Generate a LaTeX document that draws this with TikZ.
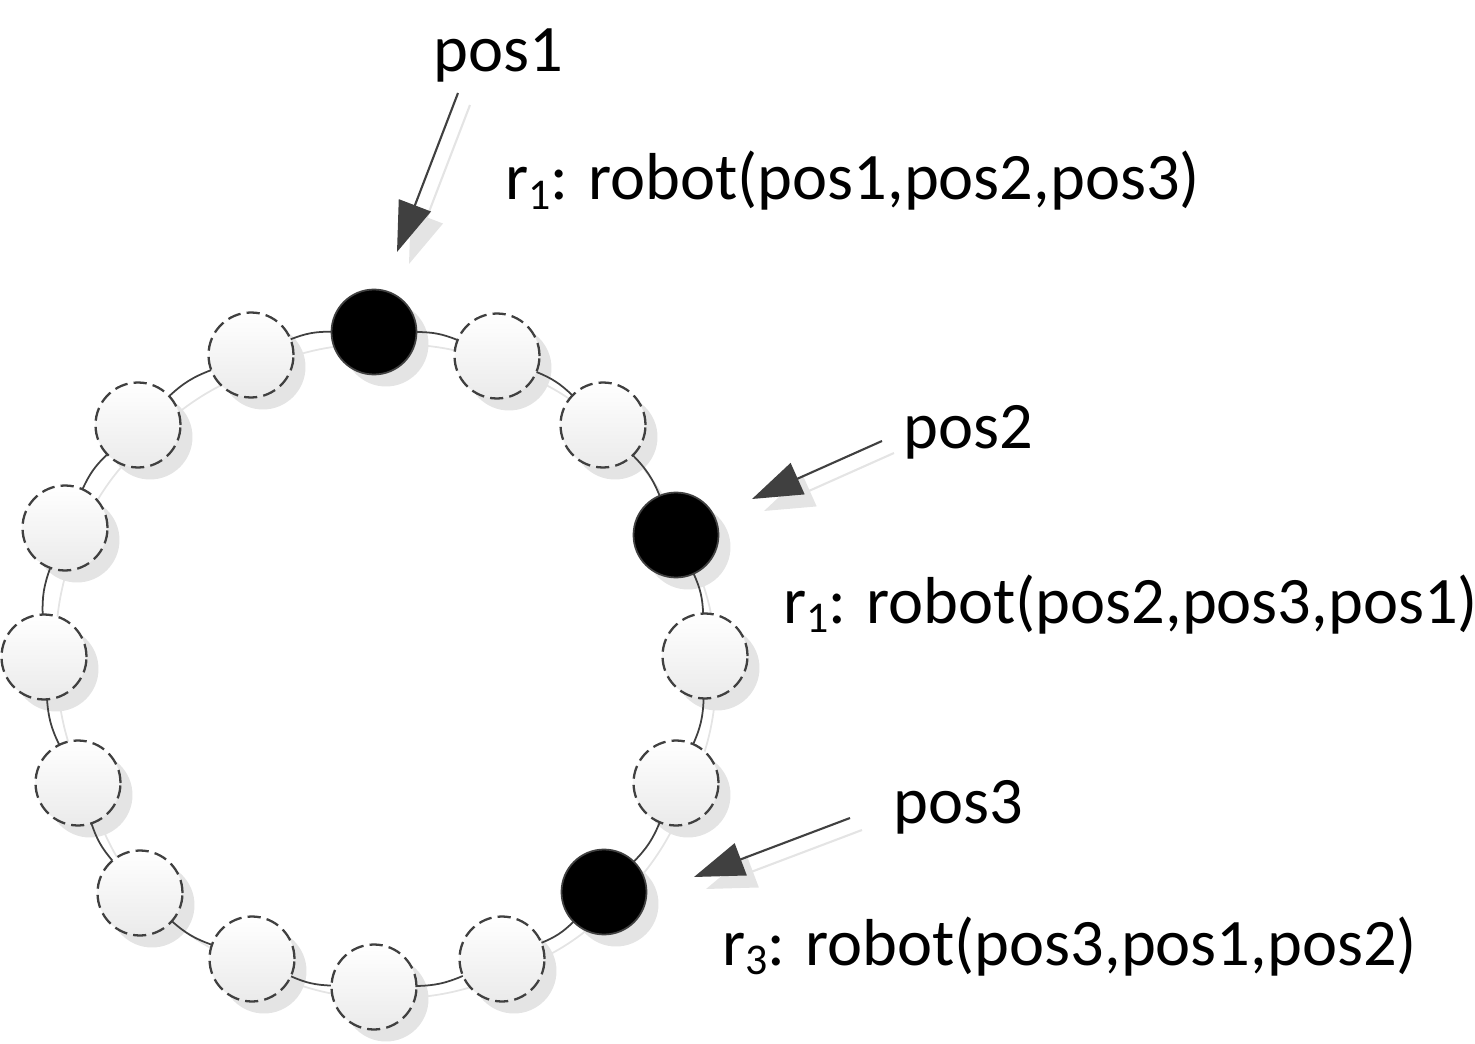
\documentclass[tikz,border=0pt]{standalone}
\usepackage{fontspec}
\setmainfont{Carlito}
\usetikzlibrary{arrows.meta,calc}
\pgfdeclarelayer{shadowlayer}
\pgfdeclarelayer{linelayer}
\pgfsetlayers{shadowlayer,linelayer,main}
\definecolor{dk}{HTML}{404040}
\definecolor{shd}{HTML}{E4E4E4}
\newcommand\robsub[1]{\raisebox{-0.15em}{\fontsize{25}{28}\selectfont #1}}
\begin{document}
\begin{tikzpicture}[x=0.02cm,y=-0.02cm,
  ball/.style={circle, minimum size=1.7cm, inner sep=0pt, outer sep=0pt},
  freeball/.style={ball, draw=dk, line width=1.3pt, dash pattern=on 7.5pt off 3.5pt, top color=white, bottom color=black!8},
  robotball/.style={ball, draw=dk, line width=1pt, fill=black},
  ring/.style={draw=dk, line width=1pt},
  ringshadow/.style={draw=shd, line width=1pt},
  lbl/.style={inner sep=0pt, anchor=base west, font=\fontsize{37.8}{45}\selectfont},
  ptr/.style={draw=dk, line width=1.2pt, -{Triangle[length=1cm,width=0.68cm]}},
  ptrshadow/.style={draw=shd, line width=1.2pt, -{Triangle[length=1cm,width=0.68cm]}}
]
\useasboundingbox (0,0) rectangle (1475,1044);

% ring of positions
\node[robotball] (c1) at (374,332) {};
\node[freeball] (c2) at (497,356) {};
\node[freeball] (c3) at (603,425) {};
\node[robotball] (c4) at (676,535) {};
\node[freeball] (c5) at (705,656) {};
\node[freeball] (c6) at (676,783) {};
\node[robotball] (c7) at (604,892) {};
\node[freeball] (c8) at (502,959) {};
\node[freeball] (c9) at (374,987) {};
\node[freeball] (c10) at (252,959) {};
\node[freeball] (c11) at (140,893) {};
\node[freeball] (c12) at (78,783) {};
\node[freeball] (c13) at (44,657) {};
\node[freeball] (c14) at (65,528) {};
\node[freeball] (c15) at (138,425) {};
\node[freeball] (c16) at (251,355) {};

\begin{pgfonlayer}{shadowlayer}
  \foreach \i/\j in {1/2,2/3,3/4,4/5,5/6,6/7,7/8,8/9,9/10,10/11,11/12,12/13,13/14,14/15,15/16,16/1}
    \draw[ringshadow] ($(c\i)+(12,12)$) to[bend left=11] ($(c\j)+(12,12)$);
  \foreach \i in {1,...,16}
    \fill[shd] ($(c\i)+(12,12)$) circle[radius=0.85cm];
\end{pgfonlayer}

\begin{pgfonlayer}{linelayer}
  \foreach \i/\j in {1/2,2/3,3/4,4/5,5/6,6/7,7/8,8/9,9/10,10/11,11/12,12/13,13/14,14/15,15/16,16/1}
    \draw[ring] (c\i) to[bend left=11] (c\j);
\end{pgfonlayer}

% pointers
\coordinate (p1s) at (458,93);
\coordinate (p1e) at (397,252);
\coordinate (p2s) at (882,441);
\coordinate (p2e) at (752,499);
\coordinate (p3s) at (850,818);
\coordinate (p3e) at (694,877);

\begin{pgfonlayer}{shadowlayer}
  \draw[ptrshadow] ($(p1s)+(12,12)$) -- ($(p1e)+(12,12)$);
  \draw[ptrshadow] ($(p2s)+(12,12)$) -- ($(p2e)+(12,12)$);
  \draw[ptrshadow] ($(p3s)+(12,12)$) -- ($(p3e)+(12,12)$);
\end{pgfonlayer}
\draw[ptr] (p1s) -- (p1e);
\draw[ptr] (p2s) -- (p2e);
\draw[ptr] (p3s) -- (p3e);

% labels
\node[lbl] (t1) at (433,72) {pos1};
\node[lbl] (r1a) at (505,200) {r\robsub{1}: robot(pos1,pos2,pos3)};
\node[lbl] (t2) at (903,448) {pos2};
\node[lbl] (r1b) at (783,623) {r\robsub{1}: robot(pos2,pos3,pos1)};
\node[lbl] (t3) at (893,823) {pos3};
\node[lbl] (r3) at (722,965) {r\robsub{3}: robot(pos3,pos1,pos2)};
\end{tikzpicture}
\end{document}
